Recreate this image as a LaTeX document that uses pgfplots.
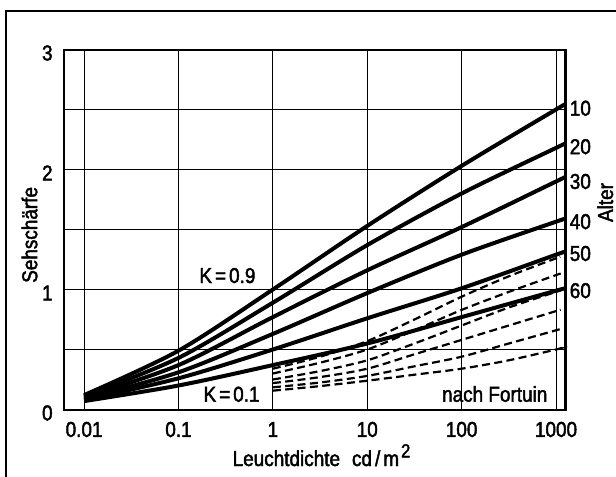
\documentclass[border=0pt]{standalone}
\usepackage{fontspec}
\setmainfont{Liberation Sans}[FakeStretch=0.88, FakeBold=2]
\usepackage{pgfplots}
\pgfplotsset{compat=1.18}
\newcommand{\lblfont}{\fontsize{10.8}{12}\selectfont}
\begin{document}
\begin{tikzpicture}
\useasboundingbox (0,0) rectangle (308bp,-238.5bp);
\draw[line width=0.8bp] (3bp,-238.5bp) -- (3bp,-5.5bp) -- (308bp,-5.5bp);
\begin{axis}[
  at={(32bp,-204.75bp)}, anchor=south west,
  scale only axis, width=251bp, height=180bp,
  xmode=log, xmin=0.006124, xmax=1276, ymin=0, ymax=3,
  xtick={0.01,0.1,1,10,100,1000},
  xticklabels={0.01,0.1,1,10,100,1000},
  ytick={0,0.5,1,1.5,2,2.5,3}, yticklabels={0,{},1,{},2,{},3},
  minor xtick={},
  grid=major,
  major grid style={line width=0.5bp, black},
  major tick length=0pt, minor tick length=0pt,
  axis line style={line width=1bp},
  tick label style={font=\lblfont},
  xticklabel style={anchor=center, yshift=-10bp, inner sep=0pt},
  yticklabel style={anchor=east, inner sep=0pt, xshift=-5.5bp, yshift=-1.75bp},
  /pgf/number format/assume math mode=true,
  label style={font=\lblfont},
  xlabel={Leuchtdichte\hspace{6bp}cd\kern1.5bp/\kern1.5bp m\raisebox{0.4em}{\kern1bp\fontsize{9.5}{10}\selectfont 2}},
  xlabel style={at={(rel axis cs:0.513,0)}, anchor=base, yshift=-28.25bp, inner sep=0pt},
  ylabel={Sehschärfe},
  ylabel style={at={(rel axis cs:-0.0687,0.485)}, anchor=center, inner sep=0pt},
  clip=false,
  solid curve/.style={black, line width=2bp, smooth},
  dashed curve/.style={black, line width=1.1bp, smooth, dash pattern=on 4bp off 2.2bp},
]
\draw[line width=1.5bp] (rel axis cs:1,0) -- (rel axis cs:1,1);
% solid curves (Alter 10 ... 60)
\addplot[solid curve] coordinates {(0.01,0.12) (0.1,0.49) (1,1.0) (10,1.53) (100,2.03) (1000,2.50) (1200,2.535)};
\addplot[solid curve] coordinates {(0.01,0.11) (0.1,0.43) (1,0.89) (10,1.37) (100,1.80) (1000,2.18) (1200,2.21)};
\addplot[solid curve] coordinates {(0.01,0.10) (0.1,0.37) (1,0.77) (10,1.16) (100,1.52) (1000,1.90) (1200,1.93)};
\addplot[solid curve] coordinates {(0.01,0.09) (0.1,0.31) (1,0.63) (10,0.97) (100,1.29) (1000,1.565) (1200,1.585)};
\addplot[solid curve] coordinates {(0.01,0.08) (0.1,0.26) (1,0.50) (10,0.76) (100,1.01) (1000,1.29) (1200,1.31)};
\addplot[solid curve] coordinates {(0.01,0.07) (0.1,0.20) (1,0.37) (10,0.55) (100,0.77) (1000,0.99) (1200,1.005)};
% dashed curves
\addplot[dashed curve] coordinates {(1,0.34) (3.16,0.44) (10,0.57) (31.6,0.75) (100,0.94) (316,1.11) (1000,1.26) (1100,1.27)};
\addplot[dashed curve] coordinates {(1,0.30) (3.16,0.39) (10,0.50) (31.6,0.66) (100,0.83) (316,0.98) (1000,1.12) (1100,1.13)};
\addplot[dashed curve] coordinates {(1,0.25) (3.16,0.32) (10,0.41) (31.6,0.55) (100,0.70) (316,0.85) (1000,0.98) (1100,0.99)};
\addplot[dashed curve] coordinates {(1,0.22) (3.16,0.27) (10,0.34) (31.6,0.46) (100,0.58) (316,0.70) (1000,0.82) (1100,0.83)};
\addplot[dashed curve] coordinates {(1,0.185) (3.16,0.225) (10,0.28) (31.6,0.36) (100,0.44) (316,0.55) (1000,0.66) (1100,0.67)};
\addplot[dashed curve] coordinates {(1,0.157) (3.16,0.195) (10,0.24) (31.6,0.29) (100,0.34) (316,0.41) (1000,0.50) (1100,0.51)};
% labels
\begin{scope}[every node/.style={font=\lblfont, inner sep=0pt}]
\node[anchor=base east] at (axis cs:0.66,1.054) {K\kern1.5bp=\kern1.5bp0.9};
\node[anchor=base east] at (axis cs:0.73,0.065) {K\kern1.5bp=\kern1.5bp0.1};
\node[anchor=base east] at (axis cs:818,0.065) {nach Fortuin};
\node[anchor=west, xshift=1.7bp] at (axis cs:1276,2.51) {10};
\node[anchor=west, xshift=1.7bp] at (axis cs:1276,2.19) {20};
\node[anchor=west, xshift=1.7bp] at (axis cs:1276,1.90) {30};
\node[anchor=west, xshift=1.7bp] at (axis cs:1276,1.565) {40};
\node[anchor=west, xshift=1.7bp] at (axis cs:1276,1.30) {50};
\node[anchor=west, xshift=1.7bp] at (axis cs:1276,0.99) {60};
\node[rotate=90, anchor=center] at ([xshift=19.65bp]rel axis cs:1,0.575) {Alter};
\end{scope}
\end{axis}
\end{tikzpicture}
\end{document}
